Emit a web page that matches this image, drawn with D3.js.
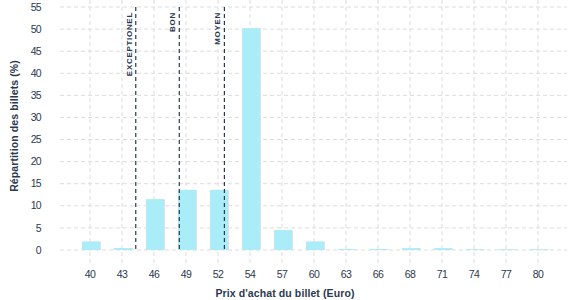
<!DOCTYPE html>
<html>
<head>
<meta charset="utf-8">
<script src="https://cdn.jsdelivr.net/npm/d3@7"></script>
<style>
  body { margin: 0; background: #fff; }
  text { font-family: "Liberation Sans", Arial, sans-serif; fill: #2c3850; }
</style>
</head>
<body>
<svg id="chart" width="577" height="300"></svg>
<script>
// prix (categories) et part des billets (%)
var prices = ["40", "43", "46", "49", "52", "54", "57", "60", "63", "66", "68", "71", "74", "77", "80"];
var shares = [1.9, 0.45, 11.5, 13.6, 13.6, 50.2, 4.5, 1.9, 0.2, 0.2, 0.4, 0.4, 0.15, 0.15, 0.15];
var yTicks = [0, 5, 10, 15, 20, 25, 30, 35, 40, 45, 50, 55];
// seuils, en position d'index de categorie
var thresholdNames = ["EXCEPTIONEL", "BON", "MOYEN"];
var thresholdPos = [1.43, 2.79, 4.2];

var width = 577, height = 300;
var svg = d3.select("#chart");

var x = d3.scalePoint()
          .domain(prices)
          .range([90, 538]);
var xIdx = d3.scaleLinear().domain([0, prices.length - 1]).range([90, 538]);

var y = d3.scaleLinear()
          .domain([0, 55])
          .range([250, 7]);

var grid = svg.append("g");

// horizontal grid
grid.selectAll(".hgrid")
  .data(yTicks)
  .enter()
  .append("line")
    .attr("x1", 60)
    .attr("x2", 567)
    .attr("y1", d => y(d))
    .attr("y2", d => y(d))
    .attr("stroke", "#dcdcdc")
    .attr("stroke-dasharray", "4,3");

// vertical grid
grid.selectAll(".vgrid")
  .data(prices)
  .enter()
  .append("line")
    .attr("x1", d => x(d))
    .attr("x2", d => x(d))
    .attr("y1", 0)
    .attr("y2", 263)
    .attr("stroke", "#dcdcdc")
    .attr("stroke-dasharray", "4,3");

var barW = 18;

// bars, with a thin grey edge on the right
svg.selectAll(".shadow")
  .data(prices)
  .enter()
  .append("rect")
    .attr("x", d => x(d) - barW / 2 + 2)
    .attr("y", (d, i) => y(shares[i]))
    .attr("width", barW)
    .attr("height", (d, i) => y(0) - y(shares[i]))
    .attr("fill", "#e2e2e2");

svg.selectAll(".bar")
  .data(prices)
  .enter()
  .append("rect")
    .attr("x", d => x(d) - barW / 2 + 1)
    .attr("y", (d, i) => y(shares[i]))
    .attr("width", barW)
    .attr("height", (d, i) => y(0) - y(shares[i]))
    .attr("fill", "#aaedf8");

// threshold lines
svg.selectAll(".thr")
  .data(thresholdPos)
  .enter()
  .append("line")
    .attr("x1", d => xIdx(d))
    .attr("x2", d => xIdx(d))
    .attr("y1", y(55))
    .attr("y2", y(0))
    .attr("stroke", "#2c3850")
    .attr("stroke-width", 1.2)
    .attr("stroke-dasharray", "4,3");

svg.selectAll(".thrlabel")
  .data(thresholdNames)
  .enter()
  .append("text")
    .attr("transform", (d, i) => "translate(" + (xIdx(thresholdPos[i]) - 4) + "," + 12 + ") rotate(-90)")
    .attr("text-anchor", "end")
    .attr("font-size", "8px")
    .attr("font-weight", "bold")
    .attr("letter-spacing", "0.7px")
    .text(d => d);

// y tick labels
svg.selectAll(".ylab")
  .data(yTicks)
  .enter()
  .append("text")
    .attr("x", 41)
    .attr("y", d => y(d))
    .attr("dy", "0.35em")
    .attr("text-anchor", "end")
    .attr("font-size", "10.5px")
    .attr("letter-spacing", "-0.7px")
    .text(d => d);

// x tick labels
svg.selectAll(".xlab")
  .data(prices)
  .enter()
  .append("text")
    .attr("x", d => x(d))
    .attr("y", 274)
    .attr("dy", "0.35em")
    .attr("text-anchor", "middle")
    .attr("font-size", "10.5px")
    .attr("letter-spacing", "-0.7px")
    .text(d => d);

// axis titles
svg.append("text")
  .attr("x", 285)
  .attr("y", 293)
  .attr("dy", "0.35em")
  .attr("text-anchor", "middle")
  .attr("font-size", "10.5px")
  .attr("font-weight", "bold")
  .attr("letter-spacing", "0.1px")
  .text("Prix d'achat du billet (Euro)");

svg.append("text")
  .attr("transform", "translate(14,126) rotate(-90)")
  .attr("dy", "0.35em")
  .attr("text-anchor", "middle")
  .attr("font-size", "10.5px")
  .attr("font-weight", "bold")
  .attr("letter-spacing", "0.1px")
  .text("Répartition des billets (%)");
</script>
</body>
</html>
